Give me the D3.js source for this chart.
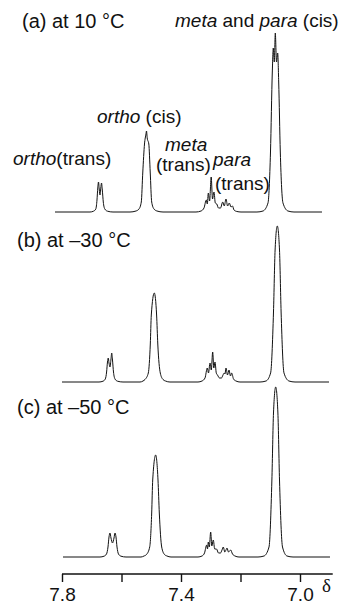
<!DOCTYPE html>
<html>
<head>
<meta charset="utf-8">
<script src="https://cdn.jsdelivr.net/npm/d3@7"></script>
<style>
  body { margin: 0; background: #fff; }
  svg text { font-family: "Liberation Sans", Arial, Helvetica, sans-serif; fill: #111; }
</style>
</head>
<body>
<svg id="chart"></svg>
<script>
// chemical shift (ppm) and intensity (arb. units)
const shiftsA = [7.8235, 7.7059, 7.6941, 7.6864, 7.6824, 7.6797, 7.6773, 7.6746, 7.6723, 7.6696, 7.6672, 7.6645, 7.6612, 7.6561, 7.6471, 7.6286,
  7.5714, 7.5513, 7.5412, 7.5335, 7.5284, 7.5227, 7.5177, 7.5160, 7.5136, 7.5082, 7.5035, 7.4985, 7.4908, 7.4807, 7.4605,
  7.3496, 7.3328, 7.3227, 7.3150, 7.3116, 7.3082, 7.3039, 7.2985, 7.2941, 7.2891, 7.2847, 7.2797, 7.2740, 7.2672, 7.2598, 7.2545, 7.2488, 7.2434, 7.2377, 7.2319, 7.2269, 7.2219, 7.2118, 7.1983,
  7.1446, 7.1244, 7.1076, 7.0992, 7.0931, 7.0898, 7.0864, 7.0830, 7.0790, 7.0750, 7.0716, 7.0662, 7.0572, 7.0404, 7.0202, 6.9261];
const intensA = [0, 0, 0.8, 3, 12, 24, 30, 22, 17, 24, 29, 22, 10, 3, 0.8, 0,
  0, 1, 3, 10, 40, 68, 78, 81, 74, 68, 40, 10, 3, 1, 0,
  0, 1, 4, 12, 8, 19, 11, 35, 13, 20, 9, 8, 4, 4, 10, 6, 13, 6, 9, 5, 6, 2, 0.5, 0,
  0, 1, 9, 60, 140, 164, 150, 179, 150, 159, 130, 60, 9, 1, 0, 0];

const shiftsB = [7.8000, 7.6756, 7.6622, 7.6545, 7.6501, 7.6471, 7.6444, 7.6420, 7.6387, 7.6353, 7.6329, 7.6303, 7.6269, 7.6219, 7.6135, 7.5950,
  7.5378, 7.5277, 7.5210, 7.5099, 7.5032, 7.4998, 7.4898, 7.4820, 7.4780, 7.4696, 7.4605, 7.4521, 7.4370,
  7.3429, 7.3294, 7.3193, 7.3116, 7.3076, 7.3025, 7.2982, 7.2935, 7.2898, 7.2857, 7.2814, 7.2773, 7.2706, 7.2639, 7.2588, 7.2548, 7.2521, 7.2488, 7.2437, 7.2387, 7.2336, 7.2296, 7.2235, 7.2151, 7.2017,
  7.1345, 7.1143, 7.0988, 7.0891, 7.0837, 7.0763, 7.0689, 7.0635, 7.0538, 7.0370, 7.0168, 6.9025];
const intensB = [0, 0, 0.8, 3, 10, 20, 24, 19, 15, 23, 29, 22, 10, 3, 0.8, 0,
  0, 1, 2.5, 9, 38, 67, 89, 67, 38, 9, 2.5, 1, 0,
  0, 1, 4, 14, 9, 19, 12, 30, 14, 20, 9, 7, 4, 4, 7, 9, 8, 14, 7, 12, 6, 9, 3, 1, 0,
  0, 1, 9, 70, 132, 156, 132, 70, 9, 1, 0, 0];

const shiftsC = [7.7966, 7.6723, 7.6588, 7.6504, 7.6454, 7.6420, 7.6387, 7.6353, 7.6303, 7.6252, 7.6219, 7.6185, 7.6151, 7.6101, 7.6017, 7.5849,
  7.5345, 7.5244, 7.5160, 7.5052, 7.4985, 7.4951, 7.4851, 7.4773, 7.4729, 7.4649, 7.4555, 7.4471, 7.4336,
  7.3429, 7.3294, 7.3210, 7.3136, 7.3109, 7.3082, 7.3049, 7.3002, 7.2965, 7.2914, 7.2867, 7.2807, 7.2740, 7.2672, 7.2622, 7.2578, 7.2528, 7.2488, 7.2454, 7.2403, 7.2330, 7.2269, 7.2185, 7.2051,
  7.1412, 7.1210, 7.1042, 7.0945, 7.0891, 7.0817, 7.0743, 7.0689, 7.0588, 7.0437, 7.0235, 6.8992];
const intensC = [0, 0, 0.8, 3, 10, 20, 24, 19, 14, 19, 24, 20, 10, 3, 0.8, 0,
  0, 1, 2.5, 10, 44, 77, 102, 77, 44, 10, 2.5, 1, 0,
  0, 1, 4, 12, 8, 15, 10, 25, 11, 17, 8, 8, 4, 4, 7, 10, 5, 7, 9, 5, 7, 3, 1, 0,
  0, 1, 10, 77, 144, 170, 144, 77, 10, 1, 0, 0];

const panelLabels = ["(a) at 10 \u00B0C", "(b) at \u201330 \u00B0C", "(c) at \u201350 \u00B0C"];
const tickValues = [7.8, 7.6, 7.4, 7.2, 7.0];
const tickLabels = ["7.8", "", "7.4", "", "7.0"];

const W = 339, H = 604;
const svg = d3.select("#chart").attr("width", W).attr("height", H);

const x = d3.scaleLinear().domain([7.8, 7.0]).range([62, 300]);
const axisEnd = 6.89;

// baseline of each spectrum (px)
const panels = [
  { s: shiftsA, v: intensA, base: 212, label: panelLabels[0], lx: 22, ly: 28 },
  { s: shiftsB, v: intensB, base: 382, label: panelLabels[1], lx: 17, ly: 247 },
  { s: shiftsC, v: intensC, base: 557, label: panelLabels[2], lx: 17, ly: 414 }
];

panels.forEach(p => {
  const y = d3.scaleLinear().domain([0, 180]).range([p.base, p.base - 180]);
  const line = d3.line()
    .x(d => x(d[0]))
    .y(d => y(d[1]))
    .curve(d3.curveMonotoneX);
  svg.append("path")
    .datum(d3.zip(p.s, p.v))
    .attr("d", line)
    .attr("fill", "none")
    .attr("stroke", "#111")
    .attr("stroke-width", 1)
    .attr("stroke-linejoin", "round");
  svg.append("text")
    .attr("x", p.lx)
    .attr("y", p.ly)
    .attr("font-size", 20)
    .text(p.label);
});

// peak annotations (spectrum a)
function label(x0, y0, parts) {
  const t = svg.append("text").attr("x", x0).attr("y", y0).attr("font-size", 19);
  parts.forEach(([str, it]) => {
    t.append("tspan").attr("font-style", it ? "italic" : "normal").text(str);
  });
}
label(175, 27, [["meta", 1], [" and ", 0], ["para", 1], [" (cis)", 0]]);
label(97, 123, [["ortho", 1], [" (cis)", 0]]);
label(13, 165, [["ortho", 1], ["(trans)", 0]]);
label(165, 151, [["meta", 1]]);
label(156, 171, [["(trans)", 0]]);
label(213, 166, [["para", 1]]);
label(215, 190, [["(trans)", 0]]);

// axis
const axis = d3.axisBottom(x)
  .tickValues(tickValues)
  .tickFormat((d, i) => tickLabels[i])
  .tickSize(8)
  .tickSizeOuter(0)
  .tickPadding(6);
const gAxis = svg.append("g").attr("transform", "translate(0,574)").call(axis);
gAxis.select(".domain").attr("d", `M${x(7.8)},0H${x(axisEnd)}`).attr("stroke", "#111").attr("stroke-width", 1.4);
gAxis.selectAll(".tick line").attr("stroke", "#111").attr("stroke-width", 1.4);
gAxis.selectAll(".tick text")
  .attr("font-size", 19)
  .attr("font-family", "\"Liberation Sans\", Arial, sans-serif")
  .attr("fill", "#111");

svg.append("text")
  .attr("x", 322)
  .attr("y", 592)
  .attr("font-size", 19)
  .style("font-family", "\"Liberation Serif\", \"DejaVu Serif\", serif")
  .text("\u03B4");
</script>
</body>
</html>
